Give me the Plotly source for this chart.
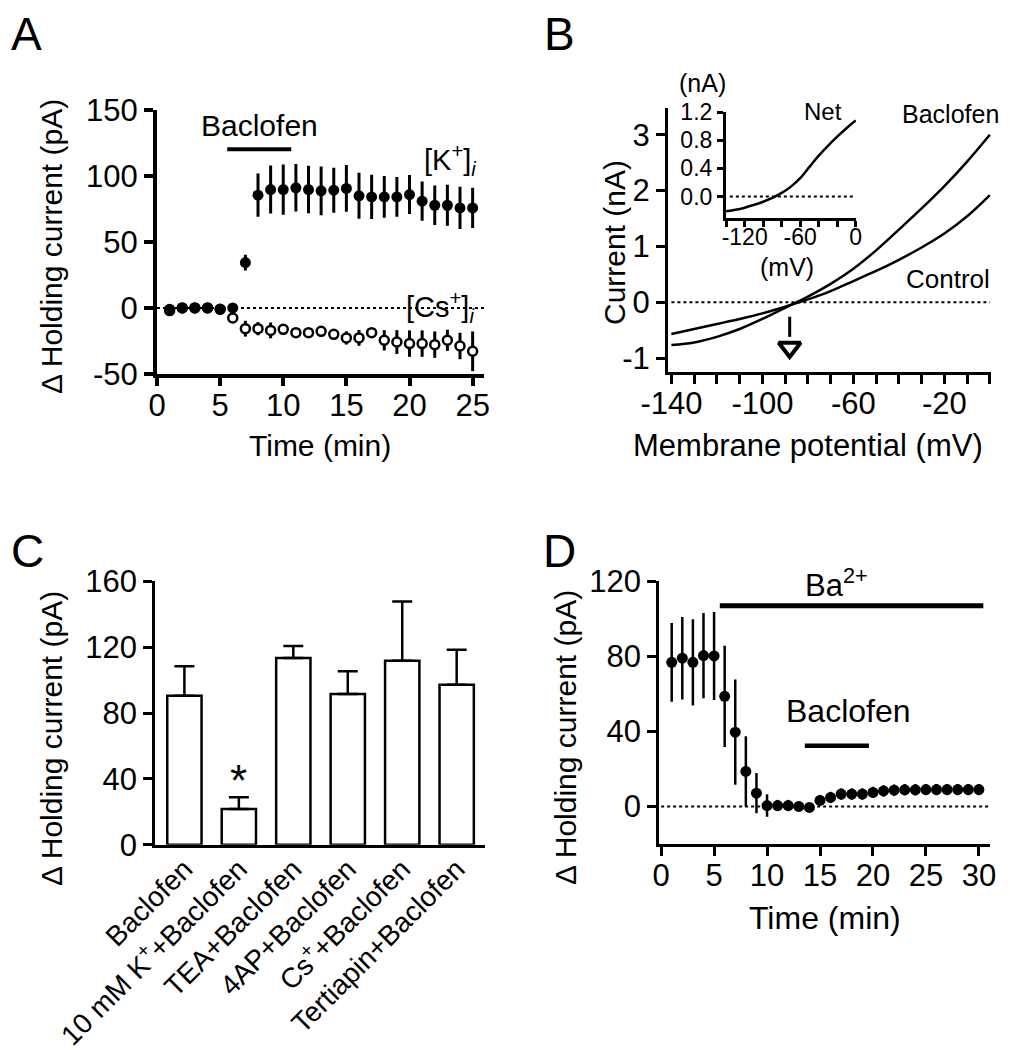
import plotly.graph_objects as go

W, H = 1010, 1050
FONT = "Liberation Sans, Arial, sans-serif"

# ---------------- Panel A data ----------------
time_a = list(range(1, 26))
k_mean = [-1, 0, 0, 0, -1, 0, 34.3, 85.3, 89.6, 89.6, 90.9, 89.6, 88.6, 89.1, 90.4,
          84.8, 84.0, 84.0, 84.0, 85.8, 80.8, 77.7, 77.7, 75.7, 75.7]
k_err = [3, 2, 2, 2, 2, 3, 6, 16.4, 18.2, 19, 18, 18, 18.4, 17, 17.7,
         17.4, 16.7, 15.8, 15, 14.8, 14.9, 14.9, 15.5, 16, 15.2]
cs_mean = [-2, 0, 0, 0, -1, -7.6, -15.7, -15.7, -17, -16.2, -18.7, -18.7, -17.7, -20, -22.7,
           -22.7, -18.7, -24.5, -25.8, -27, -27, -27.8, -24.5, -28.8, -32.8]
cs_err = [3, 2, 2, 2, 2, 3, 6, 5, 6, 4, 3, 3, 3, 3, 5,
          6, 3, 7.7, 9, 10, 10, 10, 8, 10, 15]
baclofen_a = [5.56, 10.63]
baclofen_a_level = 120
a_xticks = [0, 5, 10, 15, 20, 25]
a_yticks = [-50, 0, 50, 100, 150]

# ---------------- Panel B data ----------------
vm = [-140, -130, -120, -110, -100, -90, -80, -70, -60, -50, -40, -30, -20, -10, 0]
i_control = [-0.57, -0.48, -0.39, -0.30, -0.20, -0.08, 0.05, 0.20, 0.38, 0.56, 0.76, 0.98, 1.23, 1.54, 1.92]
i_baclofen = [-0.765, -0.72, -0.62, -0.48, -0.30, -0.10, 0.10, 0.33, 0.60, 0.93, 1.30, 1.68, 2.08, 2.52, 3.0]
i_net = [-0.21, -0.19, -0.16, -0.12, -0.075, -0.02, 0.05, 0.14, 0.26, 0.42, 0.58, 0.72, 0.85, 0.97, 1.08]
v_reversal = -88
b_xticks = [-140, -100, -60, -20]
b_yticks = [-1, 0, 1, 2, 3]
inset_xticks = [-120, -60, 0]
inset_yticks = [0.0, 0.4, 0.8, 1.2]

# ---------------- Panel C data ----------------
groups = ["Baclofen", "10 mM K<sup>+</sup>+Baclofen", "TEA+Baclofen", "4AP+Baclofen",
          "Cs<sup>+</sup>+Baclofen", "Tertiapin+Baclofen"]
c_mean = [90.5, 21.7, 113.4, 91.5, 111.8, 97.2]
c_err = [17.9, 7.1, 7.3, 13.8, 36.0, 21.2]
sig_index = 1
c_yticks = [0, 40, 80, 120, 160]

# ---------------- Panel D data ----------------
time_d = list(range(1, 31))
d_mean = [76.8, 79.0, 76.8, 80.4, 80.2, 58.7, 39.6, 18.7, 7.1, 0.5, 0.5, 0.5, 0.0, -0.5, 3.2,
          4.8, 6.6, 6.6, 6.6, 7.5, 8.3, 8.7, 8.9, 8.9, 9.0, 9.0, 9.0, 9.0, 9.0, 9.0]
d_err = [21, 22, 23, 22.7, 23.5, 27, 28, 18.7, 10.7, 6, 3, 3, 2.5, 2.5, 3,
         3, 3, 3, 3, 3, 3, 3, 3, 3, 3, 3, 3, 3, 3, 3]
ba_bar = [5.54, 30.42]
ba_level = 107
baclofen_d = [13.57, 19.62]
baclofen_d_level = 32.3
d_xticks = [0, 5, 10, 15, 20, 25, 30]
d_yticks = [0, 40, 80, 120]


def lab(vals, fmt="{:g}"):
    # hyphen-minus labels, as in the original figure
    return [fmt.format(v).replace("\u2212", "-") for v in vals]


def dx(a, b):
    return [a / W, b / W]


def dy(top, bottom):
    return [1 - bottom / H, 1 - top / H]


def px(x):
    return x / W


def py(y):
    return 1 - y / H


fig = go.Figure()

# ---- Panel A traces ----
fig.add_trace(go.Scatter(
    x=time_a, y=cs_mean, mode="markers", xaxis="x", yaxis="y",
    marker=dict(size=9, color="white", line=dict(color="black", width=2.5)),
    error_y=dict(type="data", array=cs_err, color="black", thickness=3, width=0)))
fig.add_trace(go.Scatter(
    x=time_a, y=k_mean, mode="markers", xaxis="x", yaxis="y",
    marker=dict(size=11, color="black"),
    error_y=dict(type="data", array=k_err, color="black", thickness=3, width=0)))
fig.add_trace(go.Scatter(
    x=baclofen_a, y=[baclofen_a_level] * 2, mode="lines", xaxis="x", yaxis="y",
    line=dict(color="black", width=4)))

# ---- Panel B traces ----
fig.add_trace(go.Scatter(x=vm, y=i_control, mode="lines", line_shape="spline",
                         xaxis="x2", yaxis="y2", line=dict(color="black", width=2.5)))
fig.add_trace(go.Scatter(x=vm, y=i_baclofen, mode="lines", line_shape="spline",
                         xaxis="x2", yaxis="y2", line=dict(color="black", width=2.5)))
fig.add_trace(go.Scatter(x=[v_reversal, v_reversal], y=[-0.26, -0.62], mode="lines",
                         xaxis="x2", yaxis="y2", line=dict(color="black", width=3)))
fig.add_trace(go.Scatter(x=[v_reversal], y=[-0.81], mode="markers", xaxis="x2", yaxis="y2",
                         marker=dict(symbol="triangle-down-open", size=19, color="black",
                                     line=dict(width=4, color="black"))))
# inset
fig.add_trace(go.Scatter(x=vm, y=i_net, mode="lines", line_shape="spline",
                         xaxis="x3", yaxis="y3", line=dict(color="black", width=2.5)))

# ---- Panel C ----
fig.add_trace(go.Bar(
    x=list(range(len(groups))), y=c_mean, width=0.63, xaxis="x4", yaxis="y4",
    marker=dict(color="white", line=dict(color="black", width=2.5)),
    error_y=dict(type="data", symmetric=False, array=c_err, arrayminus=[0] * len(c_err),
                 color="black", thickness=2.5, width=10)))

# ---- Panel D ----
fig.add_trace(go.Scatter(
    x=time_d, y=d_mean, mode="markers", xaxis="x5", yaxis="y5",
    marker=dict(size=11, color="black"),
    error_y=dict(type="data", array=d_err, color="black", thickness=2.5, width=0)))
fig.add_trace(go.Scatter(x=ba_bar, y=[ba_level] * 2, mode="lines", xaxis="x5", yaxis="y5",
                         line=dict(color="black", width=5)))
fig.add_trace(go.Scatter(x=baclofen_d, y=[baclofen_d_level] * 2, mode="lines",
                         xaxis="x5", yaxis="y5", line=dict(color="black", width=4.5)))

tick_font = dict(family=FONT, size=31, color="black")
inset_font = dict(family=FONT, size=23, color="black")

common = dict(showgrid=False, zeroline=False, showline=True, linecolor="black",
              ticks="outside", tickcolor="black", mirror=False, automargin=False,
              tickangle=0)

fig.update_layout(
    width=W, height=H, margin=dict(l=0, r=0, t=0, b=0, pad=0, autoexpand=False),
    paper_bgcolor="white", plot_bgcolor="rgba(0,0,0,0)", showlegend=False,
    font=dict(family=FONT, color="black"),
    # A
    xaxis=dict(common, domain=dx(149, 476), range=[0, 25.9], anchor="y",
               tickvals=a_xticks, ticktext=lab(a_xticks), linewidth=4, tickwidth=4, ticklen=8,
               tickfont=tick_font, ticklabelstandoff=-7),
    yaxis=dict(common, domain=dy(101.7, 366), range=[-50, 150], anchor="x",
               tickvals=a_yticks, ticktext=lab(a_yticks), linewidth=4, tickwidth=4, ticklen=9,
               tickfont=tick_font),
    # B main
    xaxis2=dict(common, domain=dx(660, 983), range=[-141.5, 0.5], anchor="y2",
                tickvals=b_xticks, ticktext=lab(b_xticks), linewidth=3, tickwidth=3, ticklen=9,
                tickfont=tick_font, ticklabelstandoff=-7,
                minor=dict(ticks="outside", tick0=-140, dtick=10, ticklen=9, tickwidth=3,
                           tickcolor="black", showgrid=False)),
    yaxis2=dict(common, domain=dy(100, 364), range=[-1.25, 3.48], anchor="x2",
                tickvals=b_yticks, ticktext=lab(b_yticks), linewidth=3, tickwidth=3, ticklen=9,
                tickfont=tick_font),
    # B inset
    xaxis3=dict(common, domain=dx(717.7, 848), range=[-140.5, 0.3], anchor="y3",
                tickvals=inset_xticks, ticktext=lab(inset_xticks), linewidth=2.5,
                tickwidth=2.5, ticklen=6, tickfont=inset_font, ticklabelstandoff=-9,
                minor=dict(ticks="outside", tick0=-140, dtick=20, ticklen=6, tickwidth=2.5,
                           tickcolor="black", showgrid=False)),
    yaxis3=dict(common, domain=dy(104, 210), range=[-0.306, 1.2], anchor="x3",
                tickvals=inset_yticks, ticktext=lab(inset_yticks, "{:.1f}"),
                linewidth=2.5, tickwidth=2.5, ticklen=6, tickfont=inset_font),
    # C
    xaxis4=dict(showgrid=False, zeroline=False, showline=True, linecolor="black",
                linewidth=2.5, domain=dx(147, 477), range=[-0.54, 5.52], anchor="y4",
                tickvals=list(range(len(groups))), ticktext=groups, tickangle=-45,
                ticks="", automargin=False, ticklabelstandoff=-6,
                tickfont=dict(family=FONT, size=28, color="black")),
    yaxis4=dict(common, domain=dy(573.3, 836.7), range=[0, 160], anchor="x4",
                tickvals=c_yticks, ticktext=lab(c_yticks), linewidth=2.5, tickwidth=2.5,
                ticklen=9, tickfont=tick_font),
    # D
    xaxis5=dict(common, domain=dx(651, 982), range=[-0.2, 31.05], anchor="y5",
                tickvals=d_xticks, ticktext=lab(d_xticks), linewidth=2.5, tickwidth=2.5,
                ticklen=9, tickfont=tick_font, ticklabelstandoff=-7),
    yaxis5=dict(common, domain=dy(573.3, 836), range=[-20, 120], anchor="x5",
                tickvals=d_yticks, ticktext=lab(d_yticks), linewidth=2.5, tickwidth=2.5,
                ticklen=9, tickfont=tick_font),
)

dot = dict(color="black", width=2, dash="dot")
fig.add_shape(type="line", xref="x", yref="y", x0=0, x1=25.9, y0=0, y1=0, line=dot, layer="below")
fig.add_shape(type="line", xref="x2", yref="y2", x0=-140, x1=0, y0=0, y1=0, line=dot, layer="below")
fig.add_shape(type="line", xref="x3", yref="y3", x0=-136, x1=0, y0=0, y1=0, line=dot, layer="below")
fig.add_shape(type="line", xref="x5", yref="y5", x0=0, x1=31, y0=0, y1=0, line=dot, layer="below")


def ann(x, y, text, size, angle=0, **kw):
    fig.add_annotation(x=px(x), y=py(y), xref="paper", yref="paper", text=text,
                       showarrow=False, textangle=angle,
                       font=dict(family=FONT, size=size, color="black"),
                       xanchor="center", yanchor="middle", **kw)


# panel letters
ann(18, 26, "A", 46)
ann(551, 26, "B", 46)
ann(19, 543, "C", 46)
ann(551, 543, "D", 46)

# axis titles
ann(43, 239, "Δ Holding current (pA)", 30, angle=-90)
ann(312, 437, "Time (min)", 30)
ann(607, 235, "Current (nA)", 30, angle=-90)
ann(800, 437, "Membrane potential (mV)", 31)
ann(43, 731, "Δ Holding current (pA)", 30, angle=-90)
ann(557, 730, "Δ Holding current (pA)", 30, angle=-90)
ann(817, 910, "Time (min)", 32)

# panel A labels
ann(251, 118, "Baclofen", 30)
ann(442, 152, "[K<sup>+</sup>]<sub><i>i</i></sub>", 29)
ann(432, 299, "[Cs<sup>+</sup>]<sub><i>i</i></sub>", 29)

# panel B labels
ann(815, 103, "Net", 24)
ann(942, 106, "Baclofen", 25)
ann(940, 271, "Control", 26)
ann(694, 75, "(nA)", 25)
ann(779, 259, "(mV)", 25)

# panel C asterisk
fig.add_annotation(x=sig_index, y=c_mean[sig_index] + c_err[sig_index] + 10, xref="x4", yref="y4",
                   text="*", showarrow=False, font=dict(family=FONT, size=44, color="black"),
                   xanchor="center", yanchor="middle")

# panel D labels
ann(828, 575, "Ba<sup>2+</sup>", 31)
ann(840, 703, "Baclofen", 32)

fig.write_html("out.html")
